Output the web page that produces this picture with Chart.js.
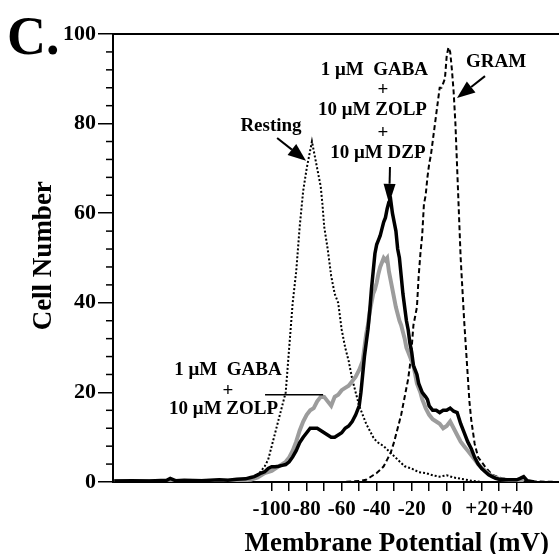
<!DOCTYPE html>
<html><head><meta charset="utf-8">
<script src="https://cdn.jsdelivr.net/npm/chart.js@4.4.1/dist/chart.umd.min.js"></script>
<style>html,body{margin:0;padding:0;background:#fff;}#wrap{width:559px;height:554px;}</style>
</head><body><div id="wrap"><canvas id="c" width="559" height="554"></canvas></div>
<script>
// ---- data (membrane potential in mV, cell number) ----
const restingX = [-190,-130,-115,-110,-108,-106,-104,-102,-100,-98,-96,-94,-92,-90,-88,-86,-84,-82,-80,-78,-77,-76,-74,-72,-71,-70,-68,-66,-64,-62,-60,-58,-56,-54,-52,-50,-48,-46,-44,-42,-40,-36,-32,-28,-24,-20,-16,-12,-8,-4,0,4,10,14,20,64];
const restingY = [0,0,0.3,0.8,1.5,2.5,3.5,5,8,11,14,17,20,30,40,47,57,65,70,74,76,74,70,66,62,57,52,46,42,40,34,30,27,23,20,17,15,13,11.5,10,9,8,6.5,5,3.5,3,2.2,2,1.5,1.2,1.5,1,0.6,0.3,0,0];

const zolpX = [-190,-170,-150,-130,-120,-112,-108,-104,-100,-96,-94,-92,-90,-88,-86,-84,-82,-80,-78,-76,-74,-72,-70,-68,-66,-64,-62,-60,-58,-56,-54,-52,-50,
  -49,-48,-47,-46,-45,-44,-43,-42,-41,-40,-39,-38,-37,-36,-35,-34,-33,-32,-31,-30,-29,-28,-27,-26,-25,-24,-23,-22,-21,-20,-19,-18,-17,-16,-15,-14,-13,-12,
  -10,-8,-6,-4,-2,0,2,4,6,8,10,12,14,16,18,20,22,24,26,28,30,34,40,44];
const zolpY = [0.2,0.2,0.2,0.3,0.3,0.5,1,2,2.5,3.5,4,4.5,5.5,7,9,11.5,13.5,15,16,16.5,18,19,19,18,17,19,19.5,20.5,21,21.5,22.5,23.5,25,
  26,27,30,33,35,38,40,42,43,44.5,46.5,48,49,50,49.5,50,47,45,43,41,39,37.5,36,35,33.5,32,30,29,28,27,26,24,22,21,20,18.5,17.5,16.5,
  15,14,13.5,13,12,12.5,13.5,12,10.5,9,8,7,6,5,4,3.2,2.5,1.8,1.3,1,0.7,0.5,0.3,0.2];

const dzpX = [-190,-180,-170,-160,-158,-155,-150,-140,-130,-125,-120,-115,-112,-110,
  -108,-106,-104,-102,-100,-98,-96,-94,-92,-90,-88,-86,-84,-82,-80,-78,-76,-74,-72,-70,-68,-66,-64,-62,-60,-58,-56,-54,-52,-50,
  -49,-48,-47,-46,-45,-44,-43,-42,-41,-40,-39,-38,-37,-36,-35,-34,-33,-32,-31,-30,-29,-28,-27,-26,-25,-24,-23,-22,-21,-20,-19,-18,-17,-16,-15,-14,-13,-12,-11,-10,
  -8,-6,-4,-2,0,2,4,6,8,10,12,14,16,18,20,22,24,26,28,30,32,
  36,40,42,44,46,50];
const dzpY = [0.2,0.3,0.2,0.4,0.8,0.3,0.4,0.3,0.5,0.4,0.6,0.7,1,1.2,
  1.6,2,2.3,3,3.4,3.4,3.5,3.7,3.9,4.5,5.6,7,8.8,10,11,12,12,12,11.5,11,10.5,10,10,10.5,11,12,12.5,13.5,15,17,
  20,24,28,31,34,38,43,47,51,53,54,55,56.5,58,59,61,62.5,63,60,58,56,52,50,46,42,39,36,34,31,29,26,25,24,22,21,20,19.5,19,18.4,17,
  16,16,15.5,16,16,16.5,15.8,15.5,13,11,9,7.5,5.5,4,3,2.3,1.6,1.2,0.8,0.6,0.5,
  0.5,0.5,0.8,1.2,0.3,0];

const gramX = [-190,-60,-50,-46,-44,-42,-40,-38,-36,-34,-32,-30,-28,-26,-24,-22,
  -21,-20,-19,-18,-17,-16,-15,-14,-13,-12,-11,-10,-9,-8,-7,-6,-5,-4,-3,-2,-1,0,1,2,3,4,5,6,7,8,9,10,11,12,
  13,14,16,18,20,22,24,26,30,36,40,64];
const gramY = [0,0,0.2,0.5,1,1.5,2,2.7,3.5,5,6.5,9,12,15,19,23,
  26,30,35,37,39,46,51,55,62,64,68,71,73,76,79,82,85,88,88,89,90,95,97,96,92,87,80,70,60,50,43,36,30,24,
  18,14,8.5,5.5,4.5,3.4,2.5,1.6,1,0.5,0.2,0];

// ---- axes ----
const xTickValues = [-100,-90,-80,-70,-60,-50,-40,-30,-20,-10,0,10,20,30,40];
const yTickValues = [0,20,40,60,80,100];
const yMinorValues = [4,8,12,16,24,28,32,36,44,48,52,56,64,68,72,76,84,88,92,96];

// ---- annotation text ----
const topLabelLines = ['1 \u03bcM  GABA','+','10 \u03bcM ZOLP','+','10 \u03bcM DZP'];
const lowLabelLines = ['1 \u03bcM  GABA','+','10 \u03bcM ZOLP'];

const FONT = '"Liberation Serif","Times New Roman",serif';
const pts = (xs, ys) => xs.map((x, i) => ({x: x, y: ys[i]}));

function arrow(ctx, x1, y1, x2, y2, len, half) {
  const ang = Math.atan2(y2 - y1, x2 - x1);
  const bx = x2 - len * Math.cos(ang), by = y2 - len * Math.sin(ang);
  ctx.beginPath(); ctx.moveTo(x1, y1); ctx.lineTo(bx, by); ctx.stroke();
  ctx.beginPath();
  ctx.moveTo(x2, y2);
  ctx.lineTo(bx + half * Math.sin(ang), by - half * Math.cos(ang));
  ctx.lineTo(bx - half * Math.sin(ang), by + half * Math.cos(ang));
  ctx.closePath(); ctx.fill();
}

const annot = {
  id: 'annot',
  afterDraw(chart) {
    const ctx = chart.ctx, a = chart.chartArea, x = chart.scales.x, y = chart.scales.y;
    const X = v => x.getPixelForValue(v), Y = v => y.getPixelForValue(v);
    ctx.save();
    ctx.strokeStyle = '#000'; ctx.fillStyle = '#000';
    // top frame line
    ctx.lineWidth = 2;
    ctx.beginPath(); ctx.moveTo(a.left - 1, a.top); ctx.lineTo(a.right, a.top); ctx.stroke();
    // minor y ticks
    ctx.lineWidth = 1.5;
    yMinorValues.forEach(v => { const p = Y(v); ctx.beginPath(); ctx.moveTo(a.left - 7, p); ctx.lineTo(a.left, p); ctx.stroke(); });
    // panel letter
    ctx.textAlign = 'left'; ctx.textBaseline = 'alphabetic';
    ctx.font = 'bold 54px ' + FONT;
    ctx.fillText('C.', 7, 54);
    // axis titles
    ctx.font = 'bold 27px ' + FONT;
    ctx.textAlign = 'center';
    ctx.fillText('Membrane Potential (mV)', X(-28.5), 551);
    ctx.save();
    ctx.translate(51, Y(50.5)); ctx.rotate(-Math.PI / 2);
    ctx.fillText('Cell Number', 0, 0);
    ctx.restore();
    // labels
    ctx.font = 'bold 19px ' + FONT;
    ctx.textBaseline = 'middle';
    ctx.fillText('Resting', X(-100.4), Y(79.4));
    ctx.fillText('GRAM', X(28.2), Y(93.8));
    const topY = [91.9, 87.5, 83.0, 77.9, 73.5];
    const topXv = [-41.3, -36.4, -42.4, -36.4, -39.3];
    topLabelLines.forEach((t, i) => ctx.fillText(t, X(topXv[i]), Y(topY[i])));
    const lowY = [24.9, 20.3, 16.3];
    const lowXv = [-125.0, -125.0, -127.5];
    lowLabelLines.forEach((t, i) => ctx.fillText(t, X(lowXv[i]), Y(lowY[i])));
    // arrows
    ctx.lineWidth = 2;
    arrow(ctx, X(-96.9), Y(76.8), X(-80.4), Y(71.7), 18, 7);
    arrow(ctx, X(-32.4), Y(70.3), X(-32.9), Y(62.1), 20, 6);
    arrow(ctx, X(21.9), Y(90.6), X(5.9), Y(85.7), 18, 7);
    // pointer line for lower label
    ctx.lineWidth = 1.5;
    ctx.beginPath(); ctx.moveTo(X(-103.8), Y(19.5)); ctx.lineTo(X(-70.6), Y(19.5)); ctx.stroke();
    ctx.restore();
  }
};

new Chart(document.getElementById('c'), {
  type: 'line',
  data: {
    datasets: [
      {label: '1 \u03bcM GABA + 10 \u03bcM ZOLP + 10 \u03bcM DZP', data: pts(dzpX, dzpY), borderColor: '#000', borderWidth: 3.5, order: 0},
      {label: '1 \u03bcM GABA + 10 \u03bcM ZOLP', data: pts(zolpX, zolpY), borderColor: '#9c9c9c', borderWidth: 4, order: 1},
      {label: 'Resting', data: pts(restingX, restingY), borderColor: '#000', borderWidth: 2, borderDash: [2, 2], order: 2},
      {label: 'GRAM', data: pts(gramX, gramY), borderColor: '#000', borderWidth: 2, borderDash: [5, 3], order: 3}
    ]
  },
  options: {
    responsive: false, animation: false, devicePixelRatio: 1,
    layout: {padding: {top: 34, right: 0, left: 0, bottom: 0}},
    elements: {point: {radius: 0}, line: {tension: 0, fill: false}},
    plugins: {legend: {display: false}, tooltip: {enabled: false}},
    scales: {
      x: {
        type: 'linear', min: -190.7, max: 64.2,
        afterBuildTicks: s => { s.ticks = xTickValues.map(v => ({value: v})); },
        afterFit: s => { s.height = 72; },
        grid: {drawOnChartArea: false, drawTicks: true, tickLength: 9, color: '#000', lineWidth: 1.5},
        border: {display: true, color: '#000', width: 2},
        ticks: {
          autoSkip: false, maxRotation: 0, minRotation: 0, padding: 6, color: '#000',
          font: {family: FONT, weight: 'bold', size: 21},
          callback: v => (v % 20 === 0 ? (v > 0 ? '+' + v : String(v)) : '')
        }
      },
      y: {
        type: 'linear', min: 0, max: 100,
        afterBuildTicks: s => { s.ticks = yTickValues.map(v => ({value: v})); },
        afterFit: s => { s.width = 113; },
        grid: {drawOnChartArea: false, drawTicks: true, tickLength: 15, color: '#000', lineWidth: 1.5},
        border: {display: true, color: '#000', width: 2},
        ticks: {color: '#000', padding: 2, font: {family: FONT, weight: 'bold', size: 22}}
      }
    }
  },
  plugins: [annot]
});
</script>
</body></html>
